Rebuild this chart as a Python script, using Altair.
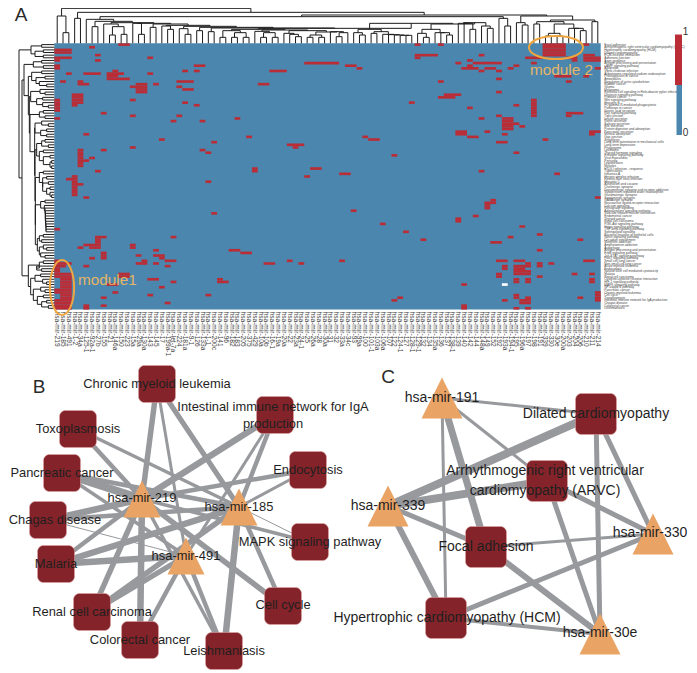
import altair as alt
import pandas as pd

FONT = "Liberation Sans"
BLUE, RED, WHITE = "#4a86ae", "#ba2d36", "#ffffff"
GREY, DARK, ORANGE = "#97999d", "#84242a", "#e9a365"
W, H = 681, 664

# ---------- heat map grid ----------
N_ROWS, N_COLS = 101, 94
HX0, HX1, HY0, HY1 = 54.3, 600.7, 43.3, 309.6
red_runs = {
 0:[(11,12),(62,62),(66,66),(84,87),(91,91)],1:[(6,6),(84,87)],2:[(0,2),(84,87)],3:[(0,2),(84,87)],
 4:[(7,7),(62,65),(73,73),(84,87),(91,92)],5:[(0,2),(16,16),(62,62),(81,83),(88,89),(91,93)],
 6:[(0,0),(7,7),(71,71),(89,89),(91,93)],7:[(43,48),(69,69),(72,75),(76,76),(82,82)],
 8:[(0,0),(24,25),(50,51),(71,71),(79,79)],9:[(0,0),(52,52),(70,72),(74,75),(78,78),(93,93)],
 10:[(10,10),(22,22),(24,24),(37,39),(73,73),(76,76)],11:[(2,2),(5,7),(9,11),(16,16)],12:[(9,10),(86,88),(91,91)],
 13:[(9,12),(76,76)],14:[(1,1),(4,4),(21,23),(66,66),(88,88)],15:[(4,5),(14,15),(17,17),(35,36)],
 16:[(13,15),(21,21)],17:[(14,15),(22,23)],18:[(14,15),(76,76)],19:[(3,4),(67,69)],20:[(3,4),(66,68)],
 21:[(0,0),(3,4),(13,13),(82,82)],22:[(0,0),(3,4),(22,22),(61,61),(82,82)],23:[(0,0),(3,3),(24,24),(79,79),(82,82)],
 24:[(0,0),(71,71),(82,82)],25:[(0,0),(82,82)],26:[(8,8),(82,82),(88,90)],27:[(13,13),(21,21),(76,76),(82,82),(88,88)],
 28:[(0,0),(31,31),(73,73),(77,78)],29:[(20,20),(25,25),(77,78)],30:[(77,79)],31:[(77,78),(80,80)],32:[(77,78)],
 33:[(69,70),(74,74),(92,93)],34:[(5,5),(69,70),(77,77),(92,92)],35:[(33,33),(53,53),(71,72)],
 36:[(18,18),(54,55),(84,84)],37:[(27,27),(76,77)],38:[(40,42)],39:[(13,13),(41,41)],40:[(4,4),(8,8),(25,25)],
 41:[(4,4),(26,26),(79,79)],42:[(4,4),(58,58)],43:[(4,4),(6,6)],44:[(4,5)],45:[(4,4)],46:[(4,4)],
 47:[(34,34),(44,45)],48:[(7,7),(34,34),(73,73)],49:[(49,50),(86,86)],50:[(3,3),(43,43)],51:[(2,3)],
 52:[(3,3),(26,26)],53:[(3,4)],54:[(3,3)],55:[(3,3)],56:[(3,3)],57:[(3,3)],58:[(5,5),(93,93)],59:[(75,75)],
 60:[(74,75)],61:[(74,74)],62:[(74,74)],63:[(51,51)],64:[(27,27)],65:[(72,72)],66:[(69,69)],67:[(69,69)],
 68:[(56,56)],69:[(80,80)],70:[(0,0)],71:[(60,60)],72:[(83,83)],73:[(7,8),(20,20),(78,78)],74:[(7,7),(63,63),(90,90)],
 75:[(7,7),(75,76)],76:[(5,7),(13,13)],77:[(4,4),(6,7),(13,13)],78:[(17,17),(30,31),(83,83)],79:[(8,8),(32,33)],
 80:[(8,8),(14,14),(17,18)],81:[(6,6),(8,8),(18,18)],82:[(0,0),(15,15),(19,20),(40,40),(49,49),(76,77),(79,80),(91,92)],
 83:[(0,2),(14,15),(17,17),(36,37),(42,42),(81,81),(83,83),(85,85)],84:[(0,1),(5,5),(19,19),(77,77),(79,81),(83,83)],
 85:[(0,0),(77,77),(79,80)],86:[(0,0),(79,81)],87:[(0,2),(11,12),(76,76),(79,81),(89,89),(92,92)],
 88:[(0,2),(11,12),(76,76),(83,83)],89:[(1,2),(16,17),(28,28),(79,79),(81,81),(92,92)],
 90:[(1,2),(20,20),(28,29),(79,79),(81,81),(92,92)],91:[(1,2),(9,10),(70,70)],92:[(1,2),(18,18)],93:[(0,2)],
 94:[(0,2),(10,10),(93,93)],95:[(1,2),(16,16),(26,26),(79,79),(93,93)],96:[(1,2),(8,8),(59,59),(79,79),(81,81),(90,90),(93,93)],
 97:[(0,2),(58,58),(77,77),(80,81),(93,93)],98:[(0,2),(19,19),(80,81)],99:[(0,2),(5,5),(8,8),(70,70)],
 100:[(0,2),(5,5),(70,70),(79,79),(81,81)],
}
white_cell = (91, 77)

row_names = [
 "Focal adhesion","Arrhythmogenic right ventricular cardiomyopathy (ARVC)","Hypertrophic cardiomyopathy (HCM)","Dilated cardiomyopathy",
 "ECM-receptor interaction","Adherens junction","Axon guidance","Antigen processing and presentation","cAMP signaling pathway","Apoptosis",
 "Vibrio cholerae infection","Aldosterone-regulated sodium reabsorption","Proteoglycans in cancer","Amoebiasis",
 "Regulation of actin cytoskeleton","Bladder cancer","Glioma","Melanoma","Epithelial cell signaling in Helicobacter pylori infection","Oxytocin signaling pathway","Prostate cancer",
 "Wnt signaling pathway","Hepatitis B","Fc gamma R-mediated phagocytosis","Pathways in cancer",
 "Gastric acid secretion","Ras signaling pathway","Tight junction","Insulin secretion","Renin secretion","Salivary secretion",
 "Bile secretion","Protein digestion and absorption","Pancreatic secretion","Mineral absorption","Gap junction","Shigellosis",
 "Long-term potentiation in mechanical cells","Long-term depression","Phagosome","Lysosome","Thyroid hormone signaling","Estrogen signaling pathway",
 "Viral myocarditis","Pertussis","Legionellosis","Measles","HTLV-I infection - response","Tuberculosis","Influenza A",
 "Herpes simplex infection","Epstein-Barr virus infection","Hepatitis C","Alcoholism and cocaine","Cholinergic synapse",
 "Dopaminergic synapse and nicotine addiction","Vasopressin-regulated water reabsorption","Glutamatergic synapse","Serotonergic synapse","GABAergic synapse",
 "Neuroactive ligand-receptor interaction","Calcium signaling","Retrograde signaling","Adipocytokine signaling pathway",
 "Vascular smooth muscle contraction","Endometrial cancer","Thyroid cancer","Basal cell carcinoma","PI3K-Akt signaling pathway",
 "Hippo signaling pathway","TGF-beta signaling pathway","Sphingolipid signaling","Bacterial invasion of epithelial cells",
 "Notch signaling pathway","Circadian entrainment","Morphine addiction","Amphetamine addiction","Autophagy","Antigen processing and presentation",
 "ErbB signaling pathway","Jak-STAT signaling pathway","FoxO signaling pathway","Small cell lung cancer","Non-small cell lung cancer","Acute myeloid leukemia",
 "Endocytosis","Natural killer cell mediated cytotoxicity","Malaria","Renal cell carcinoma","Cytokine-cytokine receptor interaction",
 "HIF-1 signaling pathway","MAPK signaling pathway","NF-kappa B pathway","Pancreatic cancer","Chronic myeloid leukemia",
 "Cell cycle","Toxoplasmosis","Intestinal immune network for IgA production","Chagas disease","Colorectal cancer","Leishmaniasis",
]
col_ids = ["219","185","491","1-2","34a","125-1","92a-1","27b","155","21","146a","150","223","15a","29a","130a","143","145",
 "17","199a-1","let-7a","224","181a","9-1","126","133a","1-1","200c","141","96","182","183","205","375","429","10a","10b","16-1","19a",
 "20a","22","23a","24-1","25","26a","28","30a","31","32","33a","34c","93","99a","100","101-1","103a","106a","107","122","124-1",
 "127","128-1","129-1","132","134","135a","136","137","138-1","139","140","142","144","148a","149","152","192","193a","194-1",
 "195","196a","197","198","191","339","330","30e","200a","203","204","206","210","211","214"]

# ---------- dendrograms: (merge height, child, child), in units of the 3x crops ----------
dn_a = (72,8,(80,(105,9,10),(103,11,12)))
dn_m1 = (88,(92,(112,28,29),(98,(112,30,31),(112,32,33))),
         (90,(94,34,(98,(112,35,36),(112,37,38))),
          (92,(100,39,(103,40,(110,41,42))),(96,(105,(112,43,44),(112,45,46)),(95,47,(98,(110,48,49),50))))))
dn_m2 = (70,(88,(98,51,(105,52,53)),(95,(100,54,55),(103,56,(104,57,(105,58,(106,59,(106,60,61))))))),
         (72,(88,(100,62,(112,63,64)),(98,65,(98,66,(105,67,68)))),
          (68,(70,69,(70,70,(88,71,72))),(78,73,(85,74,75)))))
dn_chain = (68,dn_a,(70,(70,13,(103,14,15)),(72,(82,16,17),(76,(78,18,(88,19,20)),(79,(86,21,(103,22,23)),
            (82,(92,24,25),(84,(95,26,27),(85,dn_m1,dn_m2))))))))
dn_left = (58,5,(64,(80,6,7),dn_chain))
dn_right = (48,(68,79,(75,80,81)),
            (60,(65,(72,82,83),(72,(100,(108,84,85),(108,86,87)),(85,88,(85,89,(92,90,91))))),(65,92,93)))
top_tree = (25,(48,0,(98,1,2)),(37,(55,3,4),(45,(50,dn_left,(55,76,(78,77,78))),dn_right)))

mod_rows = (85,(118,(130,82,83),(110,84,(125,85,86))),
            (92,(105,(122,87,88),(128,89,(140,90,91))),(100,(122,92,(135,93,94)),(112,(130,95,96),(125,(140,97,98),(145,99,100))))))
g1 = (110,(125,(135,36,37),(145,38,39)),(118,(130,40,41),(130,(150,42,43),(150,(155,44,45),(155,46,47)))))
g2 = (118,(130,48,49),(128,(140,50,51),(128,(145,52,53),(140,(150,54,55),(150,56,(155,57,58))))))
g3 = (122,(135,59,60),(133,61,(135,62,(136,63,(136,64,(136,65,(137,66,(137,67,(138,68,(138,69,(138,70,71)))))))))))
g4 = (112,(118,(130,72,73),(125,74,75)),(118,(130,76,(140,77,78)),(122,79,(135,80,81))))
mid = (72,(100,(125,6,7),(130,8,9)),
       (85,(95,(125,10,11),(108,(135,12,13),(118,14,(140,15,16)))),
        (88,(92,(120,17,(135,18,19)),(110,(128,20,21),(128,22,(145,23,24)))),
         (90,(118,(130,25,26),(135,27,28)),
          (104,(105,(125,29,(145,30,31)),(122,(140,32,33),(140,34,35))),(105,g1,(106,g2,(106,g3,g4))))))))
left_tree = (57,(93,(125,0,1),(105,(130,2,3),(130,4,5))),(66,mid,mod_rows))

# ---------- networks ----------
b_sq = ["Chronic","Intestinal","Toxo","Pancreatic","Endo","Chagas","MAPK","Malaria","Cycle","Renal","Colorectal","Leish"]
b_sq_x = [157,275,78,62,308,48,310,56,283,92,140,224]
b_sq_y = [384,415,429,473,470,520,542,564,606,612,640,651]
b_tri = ["m219","m185","m491"]
b_tri_x = [142,239,186]
b_tri_y = [499,507,556]
b_from = ["Chronic","Chronic","Chronic","Intestinal","Intestinal","Intestinal","Toxo","Toxo","Pancreatic","Pancreatic","Pancreatic",
          "Endo","Endo","Chagas","Chagas","Chagas","MAPK","MAPK","Malaria","Malaria","Malaria","Cycle","Cycle",
          "Renal","Renal","Renal","Colorectal","Colorectal","Leish","Leish","Leish"]
b_to = ["m219","m185","m491","m219","m185","m491","m219","m185","m219","m185","m491",
        "m219","m185","m219","m185","m491","m185","m219","m219","m185","m491","m185","m219",
        "m219","m185","m491","m219","m491","m185","m491","m219"]
b_w = [5.5,5,3,6.5,4.5,3,4.5,3.5,8,4.5,3.5,4.5,3,6.5,4.5,1,1,3.5,4.5,6.5,6.5,4.5,5.5,5.5,5.5,5.5,6.5,4.5,6.5,4.5,3.5]

c_sq = ["Dilated","ARVC","Focal","HCM"]
c_sq_x = [596,547,486,446]
c_sq_y = [414,481,547,618]
c_tri = ["m191","m339","m330","m30e"]
c_tri_x = [442,388,653,600]
c_tri_y = [398,506,534,634]
c_from = ["m191"]*4+["m339"]*4+["m330"]*4+["m30e"]*4
c_to = c_sq*4
c_w = [3,3,7,3, 8,8,5,6, 5,5,3,5, 5,5,6,4]

b_text = ["Chronic myeloid leukemia","Intestinal immune network for IgA","production","Toxoplasmosis","Pancreatic cancer","Endocytosis",
          "Chagas disease","MAPK signaling pathway","Malaria","Cell cycle","Renal cell carcinoma","Colorectal cancer","Leishmaniasis",
          "hsa-mir-219","hsa-mir-185","hsa-mir-491"]
b_text_x = [157,273,273,78,62,308,55,310,56,283,92,140,224,142,239,186]
b_text_y = [384,407,424,429,473,470,520,542,564,605,612,640,651,498,507,556]
c_text = ["hsa-mir-191","Dilated cardiomyopathy","Arrhythmogenic right ventricular","cardiomyopathy (ARVC)","hsa-mir-339","hsa-mir-330",
          "Focal adhesion","Hypertrophic cardiomyopathy (HCM)","hsa-mir-30e"]
c_text_x = [442,596,545,545,388,650,486,447,600]
c_text_y = [398,414,471,491,506,533,547,618,633]

xs = alt.Scale(domain=[8, 8 + W], range=[0, W], nice=False, zero=False)
ys = alt.Scale(domain=[8, 8 + H], range=[0, H], nice=False, zero=False)
X = lambda f="x": alt.X(f"{f}:Q", scale=xs, axis=None)
Y = lambda f="y": alt.Y(f"{f}:Q", scale=ys, axis=None)

cw = (HX1 - HX0) / N_COLS
rh = (HY1 - HY0) / N_ROWS
def cell_df(runs, color=None):
    return pd.DataFrame([{"x": HX0 + a*cw, "x2": HX0 + (b+1)*cw, "y": HY0 + r*rh, "y2": HY0 + (r+1)*rh}
                         for r, rr in runs.items() for a, b in rr])

def rect(df, color, **kw):
    return alt.Chart(df).mark_rect(color=color, **kw).encode(x=X(), x2="x2:Q", y=Y(), y2="y2:Q")

def text(df, size, color="#222222", **kw):
    return alt.Chart(df).mark_text(font=FONT, fontSize=size, color=color, **kw).encode(x=X(), y=Y(), text="t:N")

def tree_segments(node, leaf_pos, base, horizontal):
    segs = []
    def walk(n):
        if isinstance(n, int):
            return leaf_pos(n), base
        h, a, b = n
        pa, ha = walk(a); pb, hb = walk(b)
        segs.append((pa, h, pb, h)); segs.append((pa, ha, pa, h)); segs.append((pb, hb, pb, h))
        return (pa + pb) / 2, h
    walk(node)
    if horizontal:
        return pd.DataFrame([{"x": p1/3, "y": v1/3, "x2": p2/3, "y2": v2/3} for p1, v1, p2, v2 in segs])
    return pd.DataFrame([{"x": v1/3, "y": p1/3, "x2": v2/3, "y2": p2/3} for p1, v1, p2, v2 in segs])

def rule(df, color="#1c1c1c", width=1.0):
    return alt.Chart(df).mark_rule(color=color, strokeWidth=width).encode(x=X(), x2="x2:Q", y=Y(), y2="y2:Q")

layers = []
# heat map
layers.append(rect(pd.DataFrame({"x":[HX0],"x2":[HX1],"y":[HY0],"y2":[HY1]}), BLUE))
layers.append(rect(cell_df(red_runs), RED))
layers.append(rect(cell_df({white_cell[0]: [(white_cell[1], white_cell[1])]}), WHITE))
# dendrograms
layers.append(rule(tree_segments(top_tree, lambda c: 3*(HX0 + (c+.5)*cw), 3*HY0, True)))
layers.append(rule(tree_segments(left_tree, lambda r: 3*(HY0 + (r+.5)*rh), 3*HX0, False)))
# tick labels
layers.append(text(pd.DataFrame({"x":[HX0 + (i+.5)*cw for i in range(N_COLS)],"y":[311.5]*N_COLS,
                                 "t":["hsa-mir-"+c for c in col_ids]}), 6.6, "#444444", angle=90, align="left", baseline="middle"))
layers.append(text(pd.DataFrame({"x":[604.3]*N_ROWS,"y":[HY0 + (i+.5)*rh for i in range(N_ROWS)],"t":row_names}),
                   3.2, "#444444", align="left", baseline="middle"))
# colour key
layers.append(rect(pd.DataFrame({"x":[675],"x2":[682],"y":[34.5],"y2":[85]}), RED))
layers.append(rect(pd.DataFrame({"x":[676.5],"x2":[682],"y":[85],"y2":[135]}), BLUE))
layers.append(text(pd.DataFrame({"x":[685.5,685.5],"y":[32,133],"t":["1","0"]}), 10, "#333333", align="center", baseline="middle"))
# module annotations
ell_tall = "M0,-1A0.44,1 0 1,1 0,1A0.44,1 0 1,1 0,-1Z"
ell_wide = "M-1,0A1,0.43 0 1,1 1,0A1,0.43 0 1,1 -1,0Z"
layers.append(alt.Chart(pd.DataFrame({"x":[62],"y":[287.5]})).mark_point(shape=ell_tall, size=55**2, filled=False, stroke="#f0a63e", strokeWidth=2, opacity=1).encode(x=X(), y=Y()))
layers.append(alt.Chart(pd.DataFrame({"x":[556],"y":[47.5]})).mark_point(shape=ell_wide, size=54**2, filled=False, stroke="#f0a63e", strokeWidth=2, opacity=1).encode(x=X(), y=Y()))
layers.append(text(pd.DataFrame({"x":[78,530],"y":[280,70],"t":["module1","module 2"]}), 15.3, "#e6b565", align="left", baseline="middle"))
layers.append(text(pd.DataFrame({"x":[21,39,388],"y":[15,387,377],"t":["A","B","C"]}), 19, "#2b2b2b", align="center", baseline="middle"))

# networks
def network(sq, sx, sy, tri, tx, ty, fr, to, w, side):
    pos = {n:(a,b) for n,a,b in zip(sq+tri, sx+tx, sy+ty)}
    e = pd.DataFrame([{"x":pos[f][0],"y":pos[f][1],"x2":pos[t][0],"y2":pos[t][1],"w":v} for f,t,v in zip(fr,to,w)])
    out = [alt.Chart(e).mark_rule(color=GREY).encode(x=X(), x2="x2:Q", y=Y(), y2="y2:Q", strokeWidth=alt.StrokeWidth("w:Q", scale=None))]
    s = pd.DataFrame({"x":[a-side/2 for a in sx],"x2":[a+side/2 for a in sx],"y":[b-side/2 for b in sy],"y2":[b+side/2 for b in sy]})
    out.append(rect(s, DARK, cornerRadius=6, stroke="#e3a6a6", strokeWidth=0.5))
    t = pd.DataFrame({"x":tx,"y":ty})
    out.append(alt.Chart(t).mark_point(shape="M0,-1L1,1L-1,1Z", size=side**2, filled=True, color=ORANGE, opacity=1, strokeWidth=0).encode(x=X(), y=Y()))
    return out
layers += network(b_sq,b_sq_x,b_sq_y,b_tri,b_tri_x,b_tri_y,b_from,b_to,b_w,37)
layers += network(c_sq,c_sq_x,c_sq_y,c_tri,c_tri_x,c_tri_y,c_from,c_to,c_w,41)
layers.append(text(pd.DataFrame({"x":b_text_x,"y":b_text_y,"t":b_text}), 12.9, "#1f1f1f", align="center", baseline="middle"))
layers.append(text(pd.DataFrame({"x":c_text_x,"y":c_text_y,"t":c_text}), 14, "#1f1f1f", align="center", baseline="middle"))

chart = alt.layer(*layers).properties(width=W, height=H, padding=0, autosize=alt.AutoSizeParams(type="none")).configure_view(strokeWidth=0)
chart.save("out.html", embed_options={"renderer": "svg", "actions": False})
